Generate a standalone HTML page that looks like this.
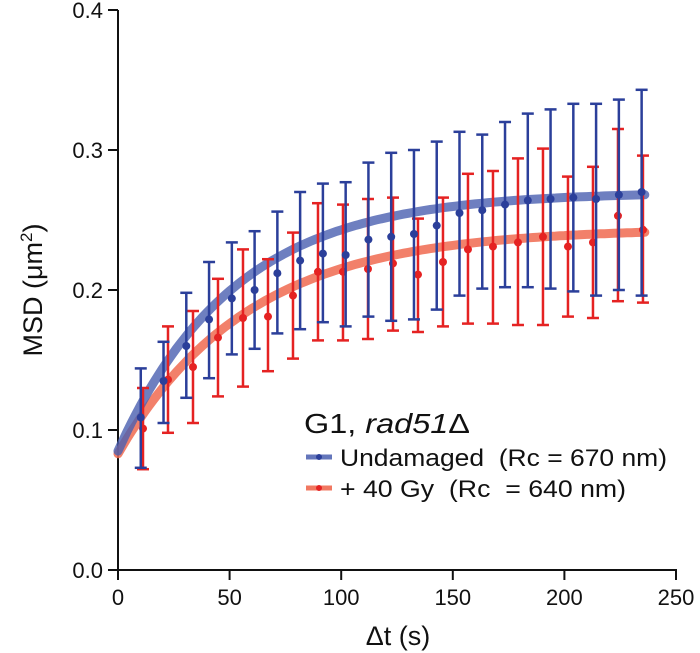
<!DOCTYPE html>
<html><head><meta charset="utf-8"><style>
body{margin:0;background:#fff;}
svg{display:block;font-family:"Liberation Sans",Arial,sans-serif;}
text{white-space:pre;}
</style></head><body>
<svg id="chart" width="700" height="653" viewBox="0 0 700 653" xmlns="http://www.w3.org/2000/svg">
<g id="axes"></g>
<g id="fits"></g>
<g id="marks"></g>
<text transform="translate(42,290) rotate(-90)" text-anchor="middle" font-size="27" fill="#111">MSD (μm<tspan dy="-10" font-size="17">2</tspan><tspan dy="10">)</tspan></text>
<text x="398" y="645" text-anchor="middle" font-size="27" fill="#111">Δt (s)</text>
<g>
<text x="304" y="433" font-size="28" fill="#111" textLength="166" lengthAdjust="spacingAndGlyphs">G1, <tspan font-style="italic">rad51</tspan>Δ</text>
<g>
<line x1="306" y1="457" x2="332" y2="457" stroke="#4a5fb0" stroke-width="5" opacity="0.85"/><circle cx="319" cy="457" r="3" fill="#2b3f9a"/>
<text x="340" y="466" font-size="24" fill="#111" textLength="327" lengthAdjust="spacingAndGlyphs">Undamaged  (Rc = 670 nm)</text></g>
<g>
<line x1="306" y1="488" x2="332" y2="488" stroke="#f06a50" stroke-width="5" opacity="0.9"/><circle cx="319" cy="488" r="3" fill="#e52222"/>
<text x="340" y="497" font-size="24" fill="#111" textLength="286" lengthAdjust="spacingAndGlyphs">+ 40 Gy  (Rc  = 640 nm)</text></g>
</g>
</svg>
<script>
const xTicks=[0,50,100,150,200,250];
const yTicks=[0.0,0.1,0.2,0.3,0.4];
const yTickLabels=["0.0","0.1","0.2","0.3","0.4"];
const blueT=[10.2,20.4,30.6,40.8,51,61.2,71.4,81.6,91.8,102,112.2,122.4,132.6,142.8,153,163.2,173.4,183.6,193.8,204,214.2,224.4,234.6];
const blueMean=[0.109,0.135,0.160,0.179,0.194,0.200,0.212,0.221,0.226,0.225,0.236,0.238,0.240,0.246,0.255,0.257,0.261,0.264,0.265,0.266,0.265,0.268,0.270];
const blueHi=[0.144,0.163,0.198,0.220,0.234,0.242,0.256,0.270,0.276,0.277,0.291,0.298,0.300,0.306,0.313,0.311,0.320,0.326,0.329,0.333,0.333,0.336,0.343];
const blueLo=[0.073,0.105,0.123,0.137,0.154,0.158,0.169,0.172,0.177,0.174,0.181,0.178,0.179,0.186,0.196,0.201,0.202,0.202,0.201,0.199,0.196,0.200,0.196];
const redT=[11.2,22.4,33.6,44.8,56,67.2,78.4,89.6,100.8,112,123.2,134.4,145.6,156.8,168,179.2,190.4,201.6,212.8,224,235.2];
const redMean=[0.101,0.136,0.145,0.166,0.180,0.181,0.196,0.213,0.213,0.215,0.219,0.211,0.220,0.229,0.231,0.234,0.238,0.231,0.234,0.253,0.243];
const redHi=[0.130,0.174,0.185,0.208,0.229,0.222,0.241,0.262,0.261,0.265,0.266,0.251,0.266,0.283,0.285,0.294,0.301,0.281,0.288,0.315,0.296];
const redLo=[0.072,0.098,0.105,0.124,0.131,0.142,0.151,0.164,0.164,0.165,0.171,0.170,0.174,0.176,0.176,0.175,0.175,0.181,0.180,0.192,0.191];
const blueFit=[0.270,0.085,52];
const redFit=[0.244,0.083,58];
const X=t=>118+t*(676-118)/250;
const Y=v=>570-v*1400;
const NS="http://www.w3.org/2000/svg";
function mk(tag,attrs,parent){const e=document.createElementNS(NS,tag);for(const k in attrs)e.setAttribute(k,attrs[k]);parent.appendChild(e);return e;}
const axes=document.getElementById('axes');
let a=mk('line',{x1:118,y1:Y(0.4),x2:118,y2:570,stroke:'#111','stroke-width':2},axes);


a=mk('line',{x1:117,y1:570,x2:677,y2:570,stroke:'#111','stroke-width':2},axes);


xTicks.forEach(t=>{
  const l=mk('line',{x1:X(t),y1:570,x2:X(t),y2:580,stroke:'#111','stroke-width':2},axes);
  
  
  const tx=mk('text',{x:X(t),y:605,'text-anchor':'middle','font-size':22,fill:'#111'},axes);
  tx.textContent=t;
  
  
});
yTicks.forEach((v,i)=>{
  const l=mk('line',{x1:108,y1:Y(v),x2:118,y2:Y(v),stroke:'#111','stroke-width':2},axes);
  
  
  const tx=mk('text',{x:103,y:Y(v)+8,'text-anchor':'end','font-size':22,fill:'#111'},axes);
  tx.textContent=yTickLabels[i];
  
  
});
const fits=document.getElementById('fits');
function fitPath(p,tmax){let d='';for(let t=0;t<=tmax;t+=2){const v=p[0]-(p[0]-p[1])*Math.exp(-t/p[2]);d+=(t?'L':'M')+X(t).toFixed(1)+','+Y(v).toFixed(1);}return d;}
let f=mk('path',{d:fitPath(redFit,236),fill:'none',stroke:'#f06a50','stroke-width':9,opacity:0.85,'stroke-linecap':'round'},fits);


f=mk('path',{d:fitPath(blueFit,236),fill:'none',stroke:'#4a5fb0','stroke-width':9,opacity:0.8,'stroke-linecap':'round'},fits);


const marks=document.getElementById('marks');
function series(T,M,H,L,col,name){
  T.forEach((t,i)=>{
    const g=mk('g',{},marks);
    
    
    const x=X(t);
    mk('line',{x1:x,y1:Y(H[i]),x2:x,y2:Y(L[i]),stroke:col,'stroke-width':2.5},g);
    mk('line',{x1:x-6,y1:Y(H[i]),x2:x+6,y2:Y(H[i]),stroke:col,'stroke-width':2.5},g);
    mk('line',{x1:x-6,y1:Y(L[i]),x2:x+6,y2:Y(L[i]),stroke:col,'stroke-width':2.5},g);
    mk('circle',{cx:x,cy:Y(M[i]),r:4,fill:col},g);
  });
}
series(redT,redMean,redHi,redLo,'#e52222','red-40gy');
series(blueT,blueMean,blueHi,blueLo,'#2b3f9a','blue-undamaged');
</script>
</body></html>
